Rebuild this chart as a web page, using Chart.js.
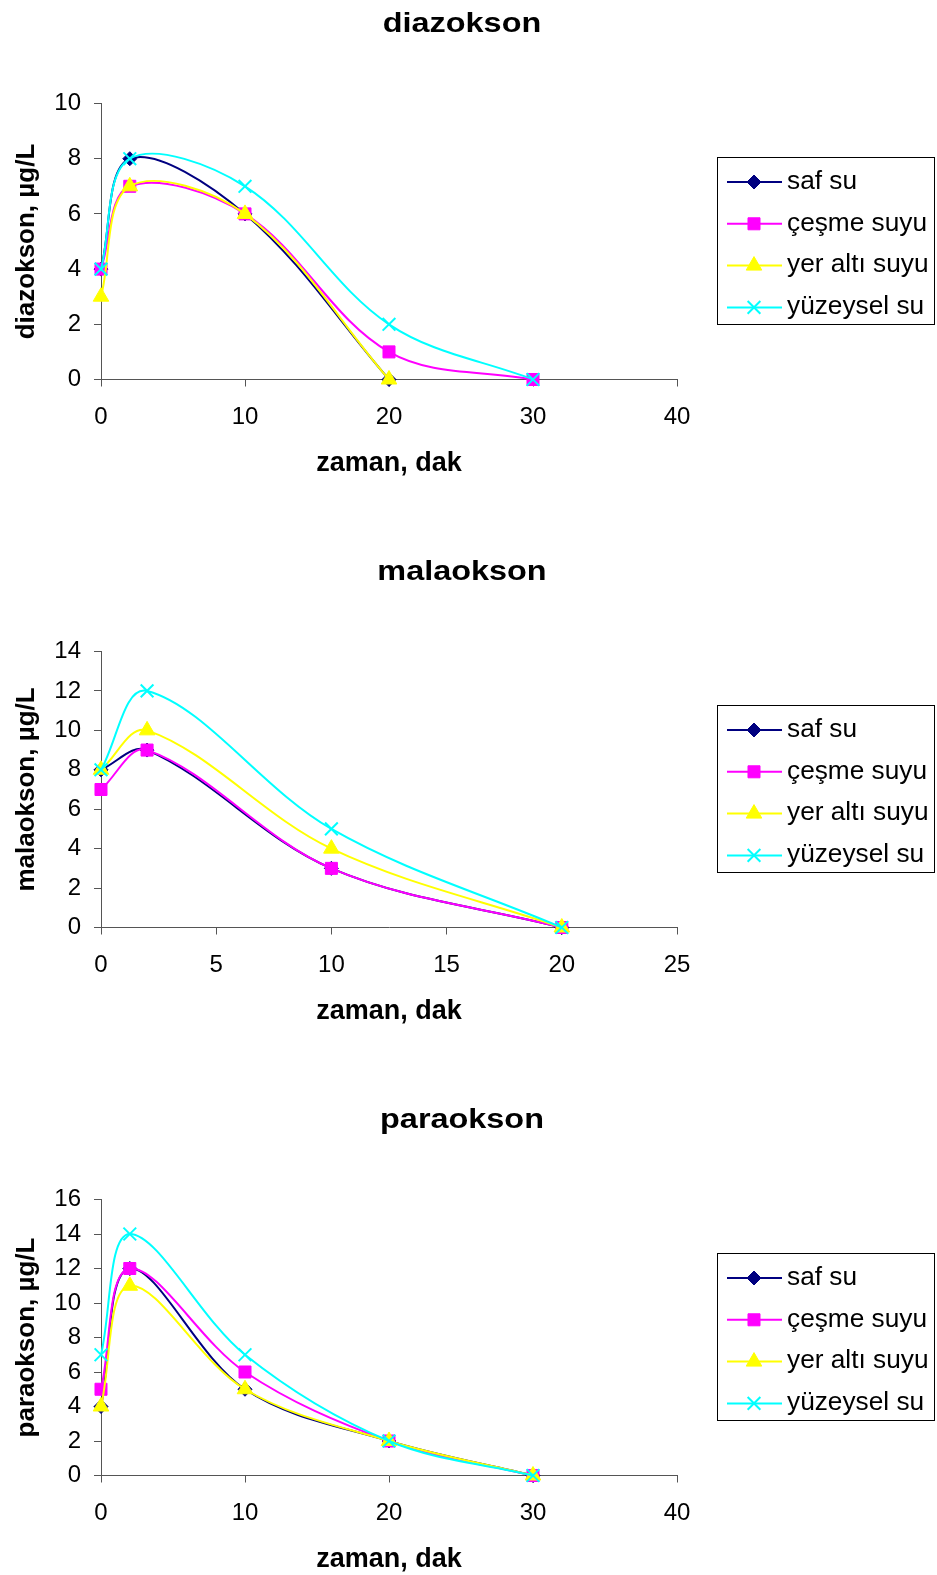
<!DOCTYPE html>
<html>
<head>
<meta charset="utf-8">
<script src="https://cdn.jsdelivr.net/npm/chart.js@4.4.1/dist/chart.umd.min.js"></script>
<style>
  html, body { margin: 0; padding: 0; background: #fff; overflow: hidden; }
  body { width: 937px; height: 1575px; position: relative; }
  .blok { position: absolute; left: 0; width: 937px; height: 548px; }
</style>
</head>
<body>
<div class="blok" style="top:0px"><canvas id="diazokson" width="937" height="548"></canvas></div>
<div class="blok" style="top:548px"><canvas id="malaokson" width="937" height="548"></canvas></div>
<div class="blok" style="top:1096px"><canvas id="paraokson" width="937" height="548"></canvas></div>

<script>
// seri adlari ve stilleri
var seriler = ['saf su', 'çeşme suyu', 'yer altı suyu', 'yüzeysel su'];
var renkler = ['#000080', '#ff00ff', '#ffff00', '#00ffff'];
var isaretler = ['rectRot', 'rect', 'triangle', 'crossRot'];
var isaretBoy = [7, 8.5, 9, 9];

// diazokson, µg/L
var diaZaman = [0, 2, 10, 20, 30];
var diaSafSu = [4, 8, 6, 0];
var diaCesme = [4, 7, 6, 1, 0];
var diaYerAlti = [3, 7, 6, 0];
var diaYuzey = [4, 8, 7, 2, 0];

// malaokson, µg/L
var malZaman = [0, 2, 10, 20];
var malSafSu = [8, 9, 3, 0];
var malCesme = [7, 9, 3, 0];
var malYerAlti = [8, 10, 4, 0];
var malYuzey = [8, 12, 5, 0];

// paraokson, µg/L
var parZaman = [0, 2, 10, 20, 30];
var parSafSu = [4, 12, 5, 2, 0];
var parCesme = [5, 12, 6, 2, 0];
var parYerAlti = [4, 11, 5, 2, 0];
var parYuzey = [7, 14, 7, 2, 0];

// eksen araliklari [max, adim]
var diaX = [40, 10], diaY = [10, 2];
var malX = [25, 5], malY = [14, 2];
var parX = [40, 10], parY = [16, 2];

Chart.defaults.font.family = '"Liberation Sans", Arial, sans-serif';
Chart.defaults.color = '#000';

var eksenRengi = '#555';

// yatayda biraz genisletilmis yazi
function genisYaz(ctx, metin, x, y, oran) {
  ctx.save();
  ctx.translate(x, y);
  ctx.scale(oran, 1);
  ctx.fillText(metin, 0, 0);
  ctx.restore();
}

// baslik ve cerceveli lejant
var cerceve = {
  id: 'cerceve',
  afterDraw: function(chart, args, opts) {
    var ctx = chart.ctx;
    ctx.save();
    ctx.fillStyle = '#000';
    ctx.font = 'bold 27px "Liberation Sans", Arial, sans-serif';
    ctx.textAlign = 'center';
    ctx.textBaseline = 'alphabetic';
    genisYaz(ctx, opts.baslik, 462, 32, 1.2);

    ctx.strokeStyle = '#000';
    ctx.lineWidth = 1;
    ctx.strokeRect(717.5, 157.5, 217, 167);

    ctx.font = '25px "Liberation Sans", Arial, sans-serif';
    ctx.textAlign = 'left';
    ctx.textBaseline = 'middle';
    chart.data.datasets.forEach(function(ds, i) {
      var y = 182 + i * 41.8;
      ctx.strokeStyle = ds.borderColor;
      ctx.lineWidth = 2;
      ctx.beginPath();
      ctx.moveTo(727, y);
      ctx.lineTo(782, y);
      ctx.stroke();
      ctx.fillStyle = ds.pointBackgroundColor;
      ctx.strokeStyle = ds.pointBorderColor;
      ctx.lineWidth = ds.pointBorderWidth;
      Chart.helpers.drawPoint(ctx, {
        pointStyle: ds.pointStyle,
        radius: ds.pointRadius,
        rotation: 0,
        borderWidth: ds.pointBorderWidth
      }, 754, y);
      ctx.fillStyle = '#000';
      genisYaz(ctx, ds.label, 787, y, 1.05);
    });
    ctx.restore();
  }
};

function grafik(id, yBaslik, zaman, degerler, xEksen, yEksen) {
  var datasets = degerler.map(function(seri, i) {
    return {
      label: seriler[i],
      data: seri.map(function(v, j) { return { x: zaman[j], y: v }; }),
      borderColor: renkler[i],
      backgroundColor: renkler[i],
      borderWidth: 2,
      pointStyle: isaretler[i],
      pointRadius: isaretBoy[i],
      pointBackgroundColor: renkler[i],
      pointBorderColor: renkler[i],
      pointBorderWidth: i === 3 ? 2 : 1,
      tension: 0.35,
      clip: false,
      order: 3 - i
    };
  });

  return new Chart(document.getElementById(id), {
    type: 'line',
    data: { datasets: datasets },
    options: {
      responsive: false,
      animation: false,
      events: [],
      layout: { padding: { left: 0, top: 103.5, right: 260, bottom: 58.5 } },
      scales: {
        x: {
          type: 'linear',
          min: 0,
          max: xEksen[0],
          ticks: { stepSize: xEksen[1], font: { size: 24 }, padding: 16 },
          grid: { drawOnChartArea: false, tickLength: 7, color: eksenRengi },
          border: { color: eksenRengi, width: 1 },
          title: {
            display: true,
            text: 'zaman, dak',
            font: { size: 27, weight: 'bold' },
            padding: { top: 4, bottom: 10 }
          },
          afterFit: function(s) { s.height = 110; }
        },
        y: {
          type: 'linear',
          min: 0,
          max: yEksen[0],
          ticks: { stepSize: yEksen[1], font: { size: 24 }, padding: 13 },
          grid: { drawOnChartArea: false, tickLength: 7, color: eksenRengi },
          border: { color: eksenRengi, width: 1 },
          title: {
            display: true,
            text: yBaslik,
            font: { size: 26, weight: 'bold' },
            padding: { top: 11, bottom: 0 }
          },
          afterFit: function(s) { s.width = 101; }
        }
      },
      plugins: {
        legend: { display: false },
        tooltip: { enabled: false },
        cerceve: { baslik: id }
      }
    },
    plugins: [cerceve]
  });
}

grafik('diazokson', 'diazokson, µg/L', diaZaman,
  [diaSafSu, diaCesme, diaYerAlti, diaYuzey], diaX, diaY);
grafik('malaokson', 'malaokson, µg/L', malZaman,
  [malSafSu, malCesme, malYerAlti, malYuzey], malX, malY);
grafik('paraokson', 'paraokson, µg/L', parZaman,
  [parSafSu, parCesme, parYerAlti, parYuzey], parX, parY);
</script>
</body>
</html>
